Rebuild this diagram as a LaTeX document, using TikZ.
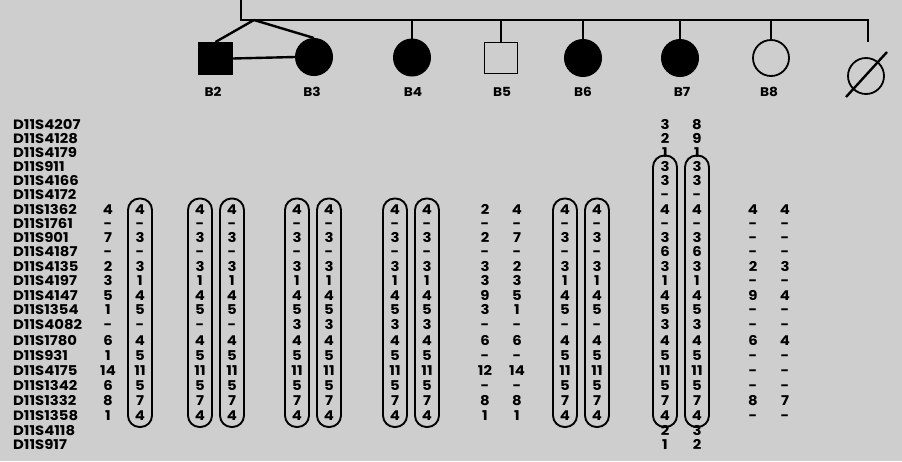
\documentclass[tikz,border=0pt]{standalone}
\usepackage{fontspec}
\setmainfont{Poppins}[FakeStretch=1.1]
\usetikzlibrary{calc}

\definecolor{paper}{RGB}{206,206,206}

% vertical positions of the 23 marker rows
\def\rowys{125,139,153,167,181,195,210,224,238,252,267,281,296,310,325,341,356,371,386,401,416,431,445}

% one column of alleles: #1 name, #2 x position, #3 first row, #4 values
\newcommand\allelecol[4]{%
  \foreach \v [count=\k from #3] in {#4} {%
    \pgfmathsetmacro\yy{{\rowys}[\k]}%
    \node[allele] (#1-\k) at (#2,\yy) {\v};
  }}

% rounded frame round a haplotype: #1 column name, #2 first row, #3 last row
\newcommand\hapframe[3]{%
  \draw[hapbox] ([xshift=-12pt,yshift=11.5pt]#1-#2.center) rectangle ([xshift=12pt,yshift=-11pt]#1-#3.center);}

\begin{document}
\begin{tikzpicture}[x=1pt,y=-1pt,
  txt/.style={font=\fontsize{13.5}{13.5}\selectfont\bfseries, inner sep=0pt, text height=9.5pt, text depth=0pt},
  lbl/.style={txt, anchor=west},
  allele/.style={txt},
  hapbox/.style={draw, line width=1.9pt, rounded corners=11.5pt},
  ped/.style={line width=2.4pt},
  sqF/.style={draw, fill=black, line width=1pt, minimum width=34pt, minimum height=32pt, inner sep=0pt},
  sqO/.style={draw, line width=1.6pt, minimum width=33pt, minimum height=31pt, inner sep=0pt},
  cirF/.style={draw, fill=black, circle, line width=1pt, minimum size=37pt, inner sep=0pt},
  cirO/.style={draw, circle, line width=1.8pt, minimum size=36pt, inner sep=0pt},
  pid/.style={txt, font=\fontsize{12.5}{12.5}\selectfont\bfseries}]

\fill[paper] (0,0) rectangle (902,461);
\useasboundingbox (0,0) rectangle (902,461);

% ---------- pedigree ----------
\coordinate (top) at (241,-3);
\coordinate (sibL) at (241,20);
\coordinate (sibR) at (868,20);
\coordinate (twin) at (254,20);
\coordinate (decTop) at (868,42);

\node[sqF]  (b2) at (215.5,58.5) {};
\node[cirF] (b3) at (314,57) {};
\node[cirF] (b4) at (412,57.5) {};
\node[sqO]  (b5) at (501,58) {};
\node[cirF] (b6) at (583,58) {};
\node[cirF] (b7) at (680,58) {};
\node[cirO] (b8) at (771,58) {};
\node[cirO] (b9) at (866,76) {};

\draw[ped] (top) -- (sibL) -- (sibR) -- (decTop);
\draw[ped] (twin) -- (b2.north);
\draw[ped] (twin) -- (b3.north);
\draw[ped] (b2.east) -- (b3.west);
\foreach \p in {b4,b5,b6,b7,b8}
  \draw[ped] (\p.north |- sibL) -- (\p.north);
\draw[ped] ($(b9)+(-20,21)$) -- ($(b9)+(21,-24)$);

\node[pid] (l2) at (213,92) {B2};
\node[pid] (l3) at (312,92) {B3};
\node[pid] (l4) at (413,92) {B4};
\node[pid] (l5) at (502,92) {B5};
\node[pid] (l6) at (583,92) {B6};
\node[pid] (l7) at (682,92) {B7};
\node[pid] (l8) at (769,92) {B8};

% ---------- marker names ----------
\foreach \m [count=\k from 0] in {D11S4207,D11S4128,D11S4179,D11S911,D11S4166,D11S4172,
  D11S1362,D11S1761,D11S901,D11S4187,D11S4135,D11S4197,D11S4147,D11S1354,D11S4082,
  D11S1780,D11S931,D11S4175,D11S1342,D11S1332,D11S1358,D11S4118,D11S917} {
  \pgfmathsetmacro\yy{{\rowys}[\k]}
  \node[lbl] (m\k) at (13,\yy) {\m};
}

% ---------- haplotypes ----------
\allelecol{p1a}{108}{6}{4,-,7,-,2,3,5,1,-,6,1,14,6,8,1}
\allelecol{p1b}{140}{6}{4,-,3,-,3,1,4,5,-,4,5,11,5,7,4}
\allelecol{p2a}{200}{6}{4,-,3,-,3,1,4,5,-,4,5,11,5,7,4}
\allelecol{p2b}{232}{6}{4,-,3,-,3,1,4,5,-,4,5,11,5,7,4}
\allelecol{p3a}{297}{6}{4,-,3,-,3,1,4,5,3,4,5,11,5,7,4}
\allelecol{p3b}{329}{6}{4,-,3,-,3,1,4,5,3,4,5,11,5,7,4}
\allelecol{p4a}{395}{6}{4,-,3,-,3,1,4,5,3,4,5,11,5,7,4}
\allelecol{p4b}{427}{6}{4,-,3,-,3,1,4,5,3,4,5,11,5,7,4}
\allelecol{p5a}{485}{6}{2,-,2,-,3,3,9,3,-,6,-,12,-,8,1}
\allelecol{p5b}{517}{6}{4,-,7,-,2,3,5,1,-,6,-,14,-,8,1}
\allelecol{p6a}{565}{6}{4,-,3,-,3,1,4,5,-,4,5,11,5,7,4}
\allelecol{p6b}{597}{6}{4,-,3,-,3,1,4,5,-,4,5,11,5,7,4}
\allelecol{p7a}{665}{0}{3,2,1,3,3,-,4,-,3,6,3,1,4,5,3,4,5,11,5,7,4,2,1}
\allelecol{p7b}{697}{0}{8,9,1,3,3,-,4,-,3,6,3,1,4,5,3,4,5,11,5,7,4,3,2}
\allelecol{p8a}{753}{6}{4,-,-,-,2,-,9,-,-,6,-,-,-,8,-}
\allelecol{p8b}{785}{6}{4,-,-,-,3,-,4,-,-,4,-,-,-,7,-}

\hapframe{p1b}{6}{20}
\hapframe{p2a}{6}{20}
\hapframe{p2b}{6}{20}
\hapframe{p3a}{6}{20}
\hapframe{p3b}{6}{20}
\hapframe{p4a}{6}{20}
\hapframe{p4b}{6}{20}
\hapframe{p6a}{6}{20}
\hapframe{p6b}{6}{20}
\hapframe{p7a}{3}{20}
\hapframe{p7b}{3}{20}
\end{tikzpicture}
\end{document}
